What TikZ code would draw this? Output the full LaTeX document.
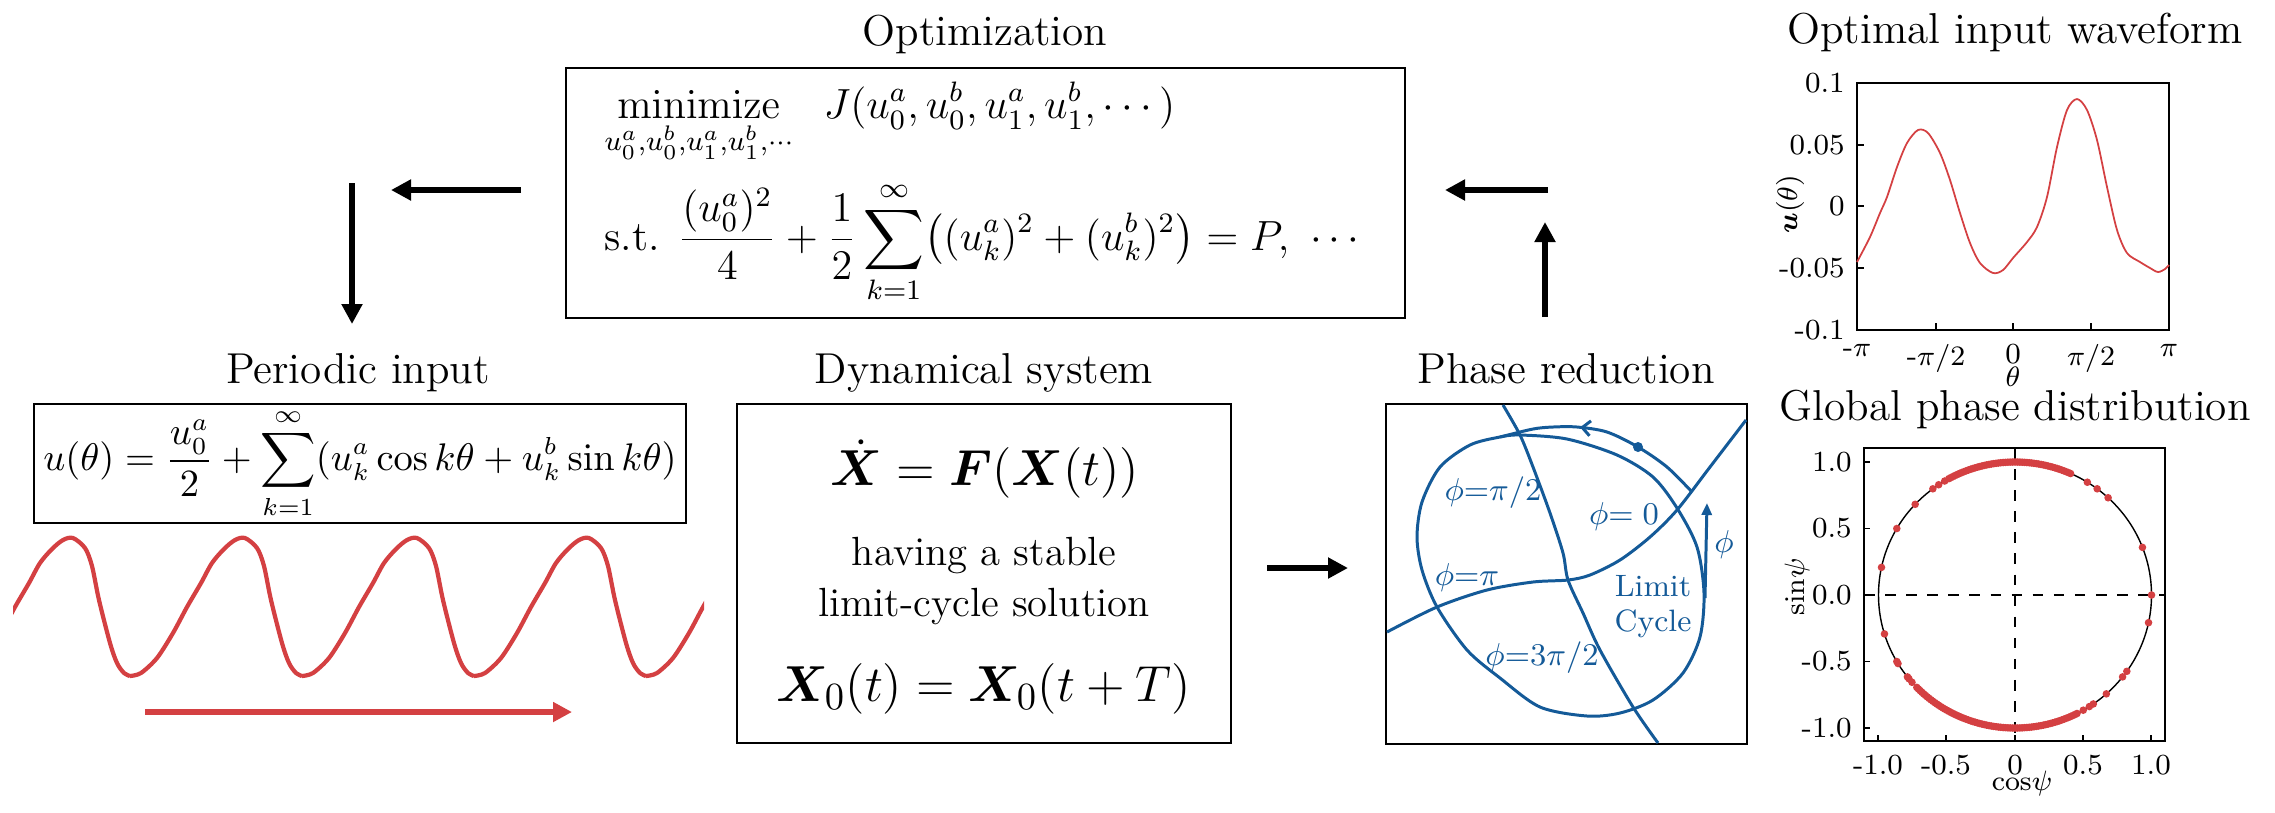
\documentclass[tikz,border=0pt]{standalone}
\usepackage{amsmath,bm}
\usetikzlibrary{arrows.meta,decorations.markings}

\definecolor{cycleblue}{RGB}{20,90,152}
\definecolor{inputred}{RGB}{212,64,66}

\begin{document}
\begin{tikzpicture}[x=0.1mm,y=-0.1mm,
  heading/.style={anchor=base,font=\fontsize{12.3}{15}\selectfont},
  panel/.style={draw,line width=0.8pt,inner sep=1pt},
  flow/.style={line width=0.65mm,-{Triangle[length=2mm,width=2mm]}},
  orbit/.style={cycleblue,line width=0.85pt},
  phaselabel/.style={cycleblue,font=\fontsize{8.8}{10}\selectfont},
  ticklabel/.style={font=\fontsize{8.3}{10}\selectfont}]

\useasboundingbox (0,0) rectangle (2275,812);

% Optimization
\node[heading] (optTitle) at (985,45) {Optimization};
\node[panel,minimum width=83.9mm,minimum height=25mm,align=left,
  font=\fontsize{12}{14}\selectfont] (opt) at (985.5,193)
  {$\displaystyle\operatorname*{minimize}_{u_0^a,u_0^b,u_1^a,u_1^b,\cdots}\;\;
    J(u_0^a,u_0^b,u_1^a,u_1^b,\cdots)$\\[4pt]
   $\displaystyle\text{s.t. }\frac{(u_0^a)^2}{4}+\frac{1}{2}\sum_{k=1}^{\infty}
    \bigl((u_k^a)^2+(u_k^b)^2\bigr)=P,\ \cdots$};

% Periodic input
\node[heading] (perTitle) at (358,383) {Periodic input};
\node[panel,minimum width=65.2mm,minimum height=11.9mm,
  font=\fontsize{10.6}{13}\selectfont] (per) at (360,463.5)
  {$\displaystyle u(\theta)=\frac{u_0^a}{2}+\sum_{k=1}^{\infty}
    (u_k^a\cos k\theta+u_k^b\sin k\theta)$};

% the input wave and its direction
\begin{scope}
\clip (13,500) rectangle (704,700);
\foreach \t in {-42,130,302,474,646}
  \draw[inputred,line width=1.2pt] plot[smooth] coordinates {(\t,676)
    ({\t+11},673) ({\t+27},658) ({\t+43},633) ({\t+57},607) ({\t+71},583)
    ({\t+82},563) ({\t+94},549) ({\t+105},540) ({\t+115},538) ({\t+127},548)
    ({\t+134},566) ({\t+141},600) ({\t+152},643) ({\t+159},663)
    ({\t+166},673) ({\t+172},676)};
\end{scope}
\coordinate (runStart) at (145,712);
\coordinate (runEnd) at (572,712);
\draw[inputred,line width=0.67mm,-{Triangle[length=1.9mm,width=1.9mm]}]
  (runStart) -- (runEnd);

% Dynamical system
\node[heading] (dynTitle) at (984,383) {Dynamical system};
\node[panel,minimum width=49.4mm,minimum height=33.9mm] (dyn) at (984,573.5) {};
\node[font=\fontsize{15}{18}\selectfont] (dynEq) at (985,469)
  {$\dot{\bm X}=\bm F(\bm X(t))$};
\node[align=center,font=\fontsize{11.6}{14.5}\selectfont] (dynText) at (984,581)
  {having a stable\\limit-cycle solution};
\node[font=\fontsize{15}{18}\selectfont] (dynSol) at (984,689)
  {$\bm X_0(t)=\bm X_0(t+T)$};

% Phase reduction
\node[heading] (phTitle) at (1566,383) {Phase reduction};
\node[panel,minimum width=36.1mm,minimum height=34mm] (ph) at (1566.5,574) {};

% limit cycle and isochrons
\draw[orbit] plot[smooth cycle] coordinates {(1520,435) (1567,439) (1617,455)
  (1653,477) (1677,508) (1697,547) (1704,593) (1700,637) (1683,673) (1653,700)
  (1620,713) (1587,716) (1540,707) (1500,678) (1467,650) (1437,607) (1422,570)
  (1417,537) (1422,502) (1440,467) (1470,445) (1500,437)};
\draw[orbit] plot[smooth] coordinates {(1503,405) (1520,435) (1533,467)
  (1550,513) (1563,553) (1568,580) (1583,613) (1600,650) (1633,707) (1658,743)};
\draw[orbit] plot[smooth] coordinates {(1387,632) (1437,607) (1487,590)
  (1533,582) (1568,580) (1590,575) (1620,560) (1650,537) (1677,510) (1710,467)
  (1746,420)};
\draw[orbit,postaction={decorate},decoration={markings,mark=at position 0.62
  with {\arrow{Straight Barb[length=0.8mm,width=1.5mm]}}}]
  plot[smooth] coordinates {(1692,492) (1667,467) (1638,447) (1607,432)
  (1577,427) (1553,427) (1533,429) (1500,437)};
\fill[cycleblue] (1638,447) circle[radius=0.5mm];
\coordinate (phiFoot) at (1705,598);
\coordinate (phiHead) at (1707,503);
\draw[orbit,-{Triangle[length=1.2mm,width=1mm]}] (phiFoot) -- (phiHead);
\node[phaselabel] (phiLabel) at (1724,545) {$\phi$};
\node[phaselabel] (isoHalf) at (1493,493) {$\phi{=}\pi/2$};
\node[phaselabel] (isoZero) at (1624,517) {$\phi{=}\;0$};
\node[phaselabel] (isoPi) at (1467,578) {$\phi{=}\pi$};
\node[phaselabel] (isoThree) at (1542,658) {$\phi{=}3\pi/2$};
\node[phaselabel,align=center] (cycleLabel) at (1653,607) {Limit\\Cycle};

% arrows between the stages
\coordinate (dynOut) at (1267,568);
\coordinate (phIn) at (1348,568);
\coordinate (upFoot) at (1545,317);
\coordinate (upHead) at (1545,222);
\coordinate (optIn) at (1548,190);
\coordinate (optInHead) at (1445,190);
\coordinate (optOut) at (521,190);
\coordinate (optOutHead) at (391,190);
\coordinate (downFoot) at (352,183);
\coordinate (downHead) at (352,324);
\draw[flow] (dynOut) -- (phIn);
\draw[flow] (upFoot) -- (upHead);
\draw[flow] (optIn) -- (optInHead);
\draw[flow] (optOut) -- (optOutHead);
\draw[flow] (downFoot) -- (downHead);

% Optimal input waveform
\node[heading] (waveTitle) at (2015,43) {Optimal input waveform};
\draw[line width=0.6pt] (1857,83) rectangle (2169,330);
\foreach \x in {1936,2013,2091}
  \draw[line width=0.5pt] (\x,330) -- (\x,323);
\foreach \y in {145,206,268}
  \draw[line width=0.5pt] (1857,\y) -- (1864,\y);
\foreach \y/\t in {83/0.1,145/0.05,206/0,268/-0.05,330/-0.1}
  \node[ticklabel,anchor=east] (wy\y) at (1857,\y) {\t};
\node[ticklabel,anchor=north] (wxa) at (1857,332) {-$\pi$};
\node[ticklabel,anchor=north] (wxb) at (1936,332) {-$\pi/2$};
\node[ticklabel,anchor=north] (wxc) at (2013,332) {0};
\node[ticklabel,anchor=north] (wxd) at (2091,332) {$\pi/2$};
\node[ticklabel,anchor=north] (wxe) at (2169,332) {$\pi$};
\node[ticklabel] (thetaLabel) at (2013,377) {$\theta$};
\node[ticklabel,rotate=90] (uLabel) at (1790,204) {$\bm u(\theta)$};
\draw[inputred,line width=0.5pt] plot[smooth] coordinates {(1857,262)
  (1870,237) (1880,213) (1887,197) (1897,167) (1907,143) (1918,130) (1928,133)
  (1940,153) (1950,180) (1960,213) (1970,243) (1980,263) (1993,273) (2003,270)
  (2013,258) (2027,242) (2037,227) (2047,197) (2057,147) (2067,110) (2077,99)
  (2087,110) (2097,140) (2107,187) (2117,230) (2127,253) (2140,262) (2150,268)
  (2158,272) (2165,269) (2169,265)};

% Global phase distribution
\node[heading] (distTitle) at (2015,420) {Global phase distribution};
\draw[line width=0.6pt] (1864,448) rectangle (2165,741);
\draw[dashed,line width=0.4pt] (1864,595) -- (2165,595);
\draw[dashed,line width=0.4pt] (2015,448) -- (2015,741);
\draw[line width=0.4pt] (2015,595) ellipse [x radius=13.65mm,y radius=13.3mm];
\foreach \y/\t in {462/1.0,528.5/0.5,595/0.0,661.5/-0.5,728/-1.0}{
  \draw[line width=0.5pt] (1864,\y) -- (1870,\y);
  \node[ticklabel,anchor=east] (gy\y) at (1864,\y) {\t};
}
\foreach \x/\t in {1878/-1.0,1946/-0.5,2015/0,2083/0.5,2151/1.0}{
  \draw[line width=0.5pt] (\x,741) -- (\x,735);
  \node[ticklabel,anchor=north] (gx\x) at (\x,743) {\t};
}
\node[ticklabel] (cosLabel) at (2022,783) {$\mathrm{cos}\psi$};
\node[ticklabel,rotate=90] (sinLabel) at (1797,587) {$\mathrm{sin}\psi$};
\foreach \a in {66,67,...,119}
  \fill[inputred] ({2015+136.5*cos(\a)},{595-133*sin(\a)}) circle[radius=0.38mm];
\foreach \a in {224,225,...,297}
  \fill[inputred] ({2015+136.5*cos(\a)},{595-133*sin(\a)}) circle[radius=0.38mm];
\foreach \a in {0,21,47,53,58,121,124,127,137,150,168,197,210,211,218,219,221,
  300,303,305,312,322,325,348}
  \fill[inputred] ({2015+136.5*cos(\a)},{595-133*sin(\a)}) circle[radius=0.38mm];

\end{tikzpicture}
\end{document}
